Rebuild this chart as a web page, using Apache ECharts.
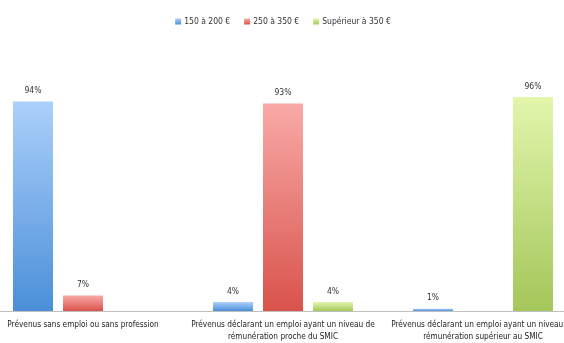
<!DOCTYPE html>
<html><head><meta charset="utf-8">
<script src="https://cdn.jsdelivr.net/npm/echarts@6/dist/echarts.min.js"></script>
<style>html,body{margin:0;padding:0;background:#fff;overflow:hidden;width:564px;height:343px}#c{width:600px;height:343px;margin-left:-17px}</style>
</head><body><div id="c"></div>
<script>
const categories = [
  "Prévenus sans emploi ou sans profession",
  "Prévenus déclarant un emploi ayant un niveau de\nrémunération proche du SMIC",
  "Prévenus déclarant un emploi ayant un niveau de\nrémunération supérieur au SMIC"
];
const seriesNames = ["150 à 200 €", "250 à 350 €", "Supérieur à 350 €"];
const low = [94, 4, 1];
const mid = [7, 93, null];
const high = [null, 4, 96];

const FONT = "'Liberation Sans Narrow','DejaVu Sans Condensed',sans-serif";
function grad(top, bottom) {
  return new echarts.graphic.LinearGradient(0, 0, 0, 1, [
    {offset: 0, color: top}, {offset: 1, color: bottom}
  ]);
}
const styles = [
  {c1: '#acd0fb', c2: '#4a8fd8', leg: '#4f8fd6'},
  {c1: '#f9aaa7', c2: '#d9534b', leg: '#e0605a'},
  {c1: '#e2f6ac', c2: '#a4c65a', leg: '#b5d86a'}
];
const datas = [low, mid, high];
const chart = echarts.init(document.getElementById('c'));
chart.setOption({
  animation: false,
  color: styles.map(s => s.leg),
  legend: {
    top: 12, left: 'center',
    itemWidth: 6, itemHeight: 6, itemGap: 14,
    icon: 'rect',
    textStyle: {fontFamily: FONT, fontSize: 8.5, color: '#333', padding: [0, 0, 0, -2]},
    data: seriesNames
  },
  grid: {left: 0, right: 0, top: 88, bottom: 32},
  xAxis: {
    type: 'category', data: categories,
    axisLine: {lineStyle: {color: '#bfbfbf', width: 1}},
    axisTick: {show: false},
    axisLabel: {interval: 0, fontFamily: FONT, fontSize: 8.2, color: '#222', margin: 8, lineHeight: 12}
  },
  yAxis: {type: 'value', min: 0, max: 100, show: false, splitLine: {show: false}},
  series: datas.map((d, i) => ({
    name: seriesNames[i], type: 'bar', data: d,
    barWidth: 40, barGap: '25%',
    itemStyle: {color: grad(styles[i].c1, styles[i].c2)},
    label: {show: true, position: 'top', distance: 6, formatter: '{c}%',
      fontFamily: FONT, fontSize: 8.5, color: '#333'}
  }))
});
</script></body></html>
